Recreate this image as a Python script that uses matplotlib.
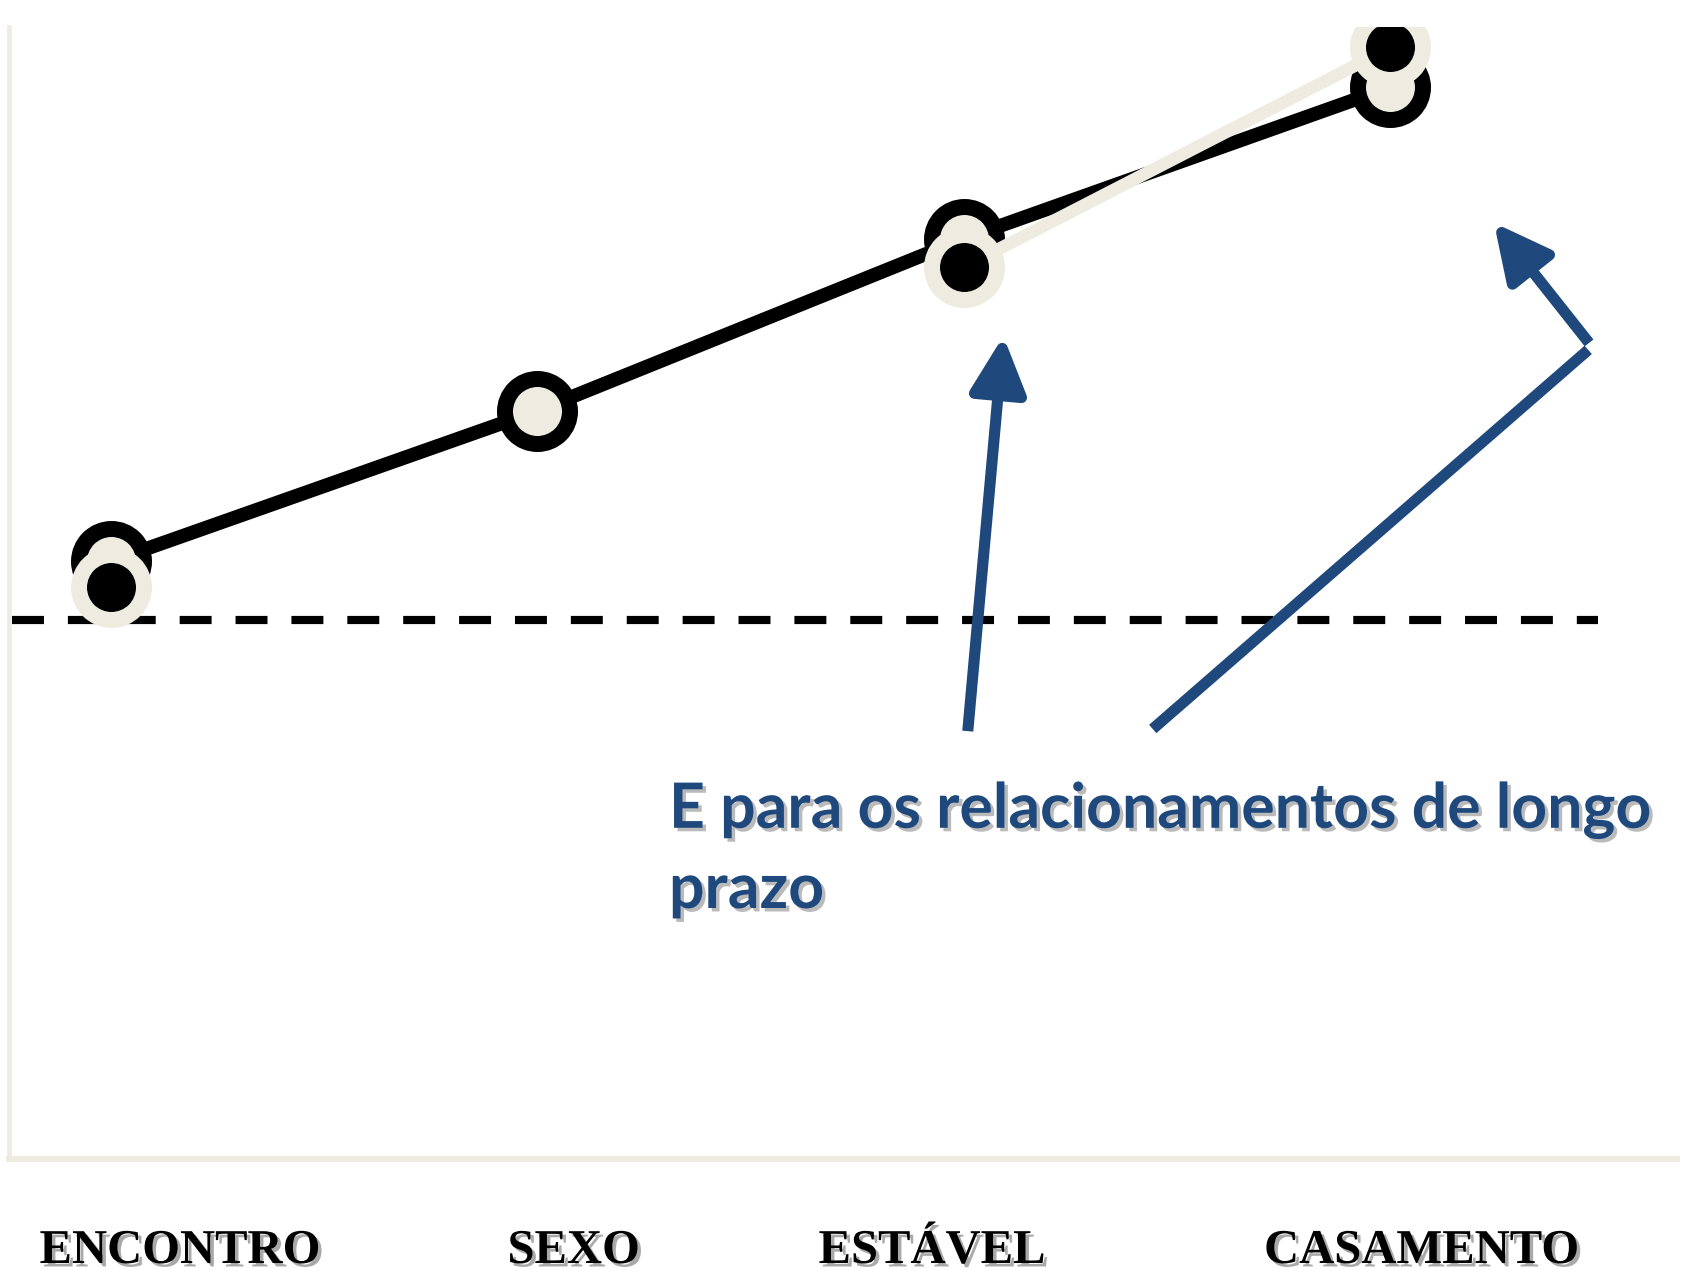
import numpy as np
import matplotlib
matplotlib.use("Agg")
import matplotlib.pyplot as plt
import matplotlib.patheffects as pe
from matplotlib.patches import FancyArrowPatch
from matplotlib.lines import Line2D

# stages of the relationship
categories = ["ENCONTRO", "SEXO", "ESTÁVEL", "CASAMENTO"]
# black series (beige-filled markers)
serie_preta = [52.8, 66.1, 81.3, 94.7]
# beige series (black-filled markers), no value for SEXO
serie_bege = [50.5, np.nan, 78.8, 98.2]
# dashed reference level
nivel_base = 47.6

nota = "E para os relacionamentos de longo\nprazo"

BEGE = "#EEECE1"
AZUL = "#1F497D"

fig = plt.figure(figsize=(16.86, 12.70), dpi=100)
ax = fig.add_axes([0.0051, 0.0874, 0.9896, 0.8913])

x = np.arange(len(categories))
ax.set_xlim(-0.2396, 3.672)
ax.set_ylim(0, 100)

ax.axhline(nivel_base, xmin=0.002, xmax=0.9527, color="black", lw=5.9,
           dashes=(3.9, 2.92), zorder=2)

ax.plot(x, serie_preta, color="black", lw=10, marker="o", ms=46.8,
        mew=11.5, mec="black", mfc=BEGE, zorder=3,
        solid_capstyle="butt")
ax.plot(x, serie_bege, color=BEGE, lw=9, marker="o", ms=46.8,
        mew=11.5, mec=BEGE, mfc="black", zorder=4,
        solid_capstyle="butt")

for s in ["top", "right"]:
    ax.spines[s].set_visible(False)
ax.spines["left"].set_color(BEGE)
ax.spines["left"].set_linewidth(3.4)
ax.spines["bottom"].set_color(BEGE)
ax.spines["bottom"].set_linewidth(4.3)
ax.set_xticks([])
ax.set_yticks([])

# category labels under the axis
label_x = [0.1068, 0.3403, 0.5528, 0.8432]
sombra = [pe.withSimplePatchShadow(offset=(2.5, -2.5), shadow_rgbFace="#555555", alpha=0.5)]
for lx, lab in zip(label_x, categories):
    fig.text(lx, 0.0055, lab, ha="center", va="baseline",
             family="Liberation Serif", weight="bold", fontsize=35,
             color="black", path_effects=sombra)

# note text (baseline of the last line)
fig.text(0.3968, 1 - 908 / 1270, nota, ha="left", va="baseline",
         family="Lato", weight="bold", fontsize=45, color=AZUL,
         linespacing=1.43,
         path_effects=[pe.withSimplePatchShadow(offset=(2.5, -2.5),
                                                shadow_rgbFace="#777777", alpha=0.5)])

# arrows (figure fraction)
seta = dict(arrowstyle="-|>,head_length=34,head_width=17", color=AZUL,
            lw=8, mutation_scale=1, shrinkA=0, shrinkB=0,
            transform=fig.transFigure, capstyle="butt")
fig.add_artist(FancyArrowPatch((0.574, 0.4243), (0.5951, 0.7354), **seta))

fig.add_artist(Line2D([0.6837, 0.9420], [0.4260, 0.7245], color=AZUL, lw=8,
                      transform=fig.transFigure, solid_capstyle="butt"))
fig.add_artist(FancyArrowPatch((0.9425, 0.7300), (0.8861, 0.8246), **seta))

fig.savefig("out.png", dpi=100, facecolor="white")
